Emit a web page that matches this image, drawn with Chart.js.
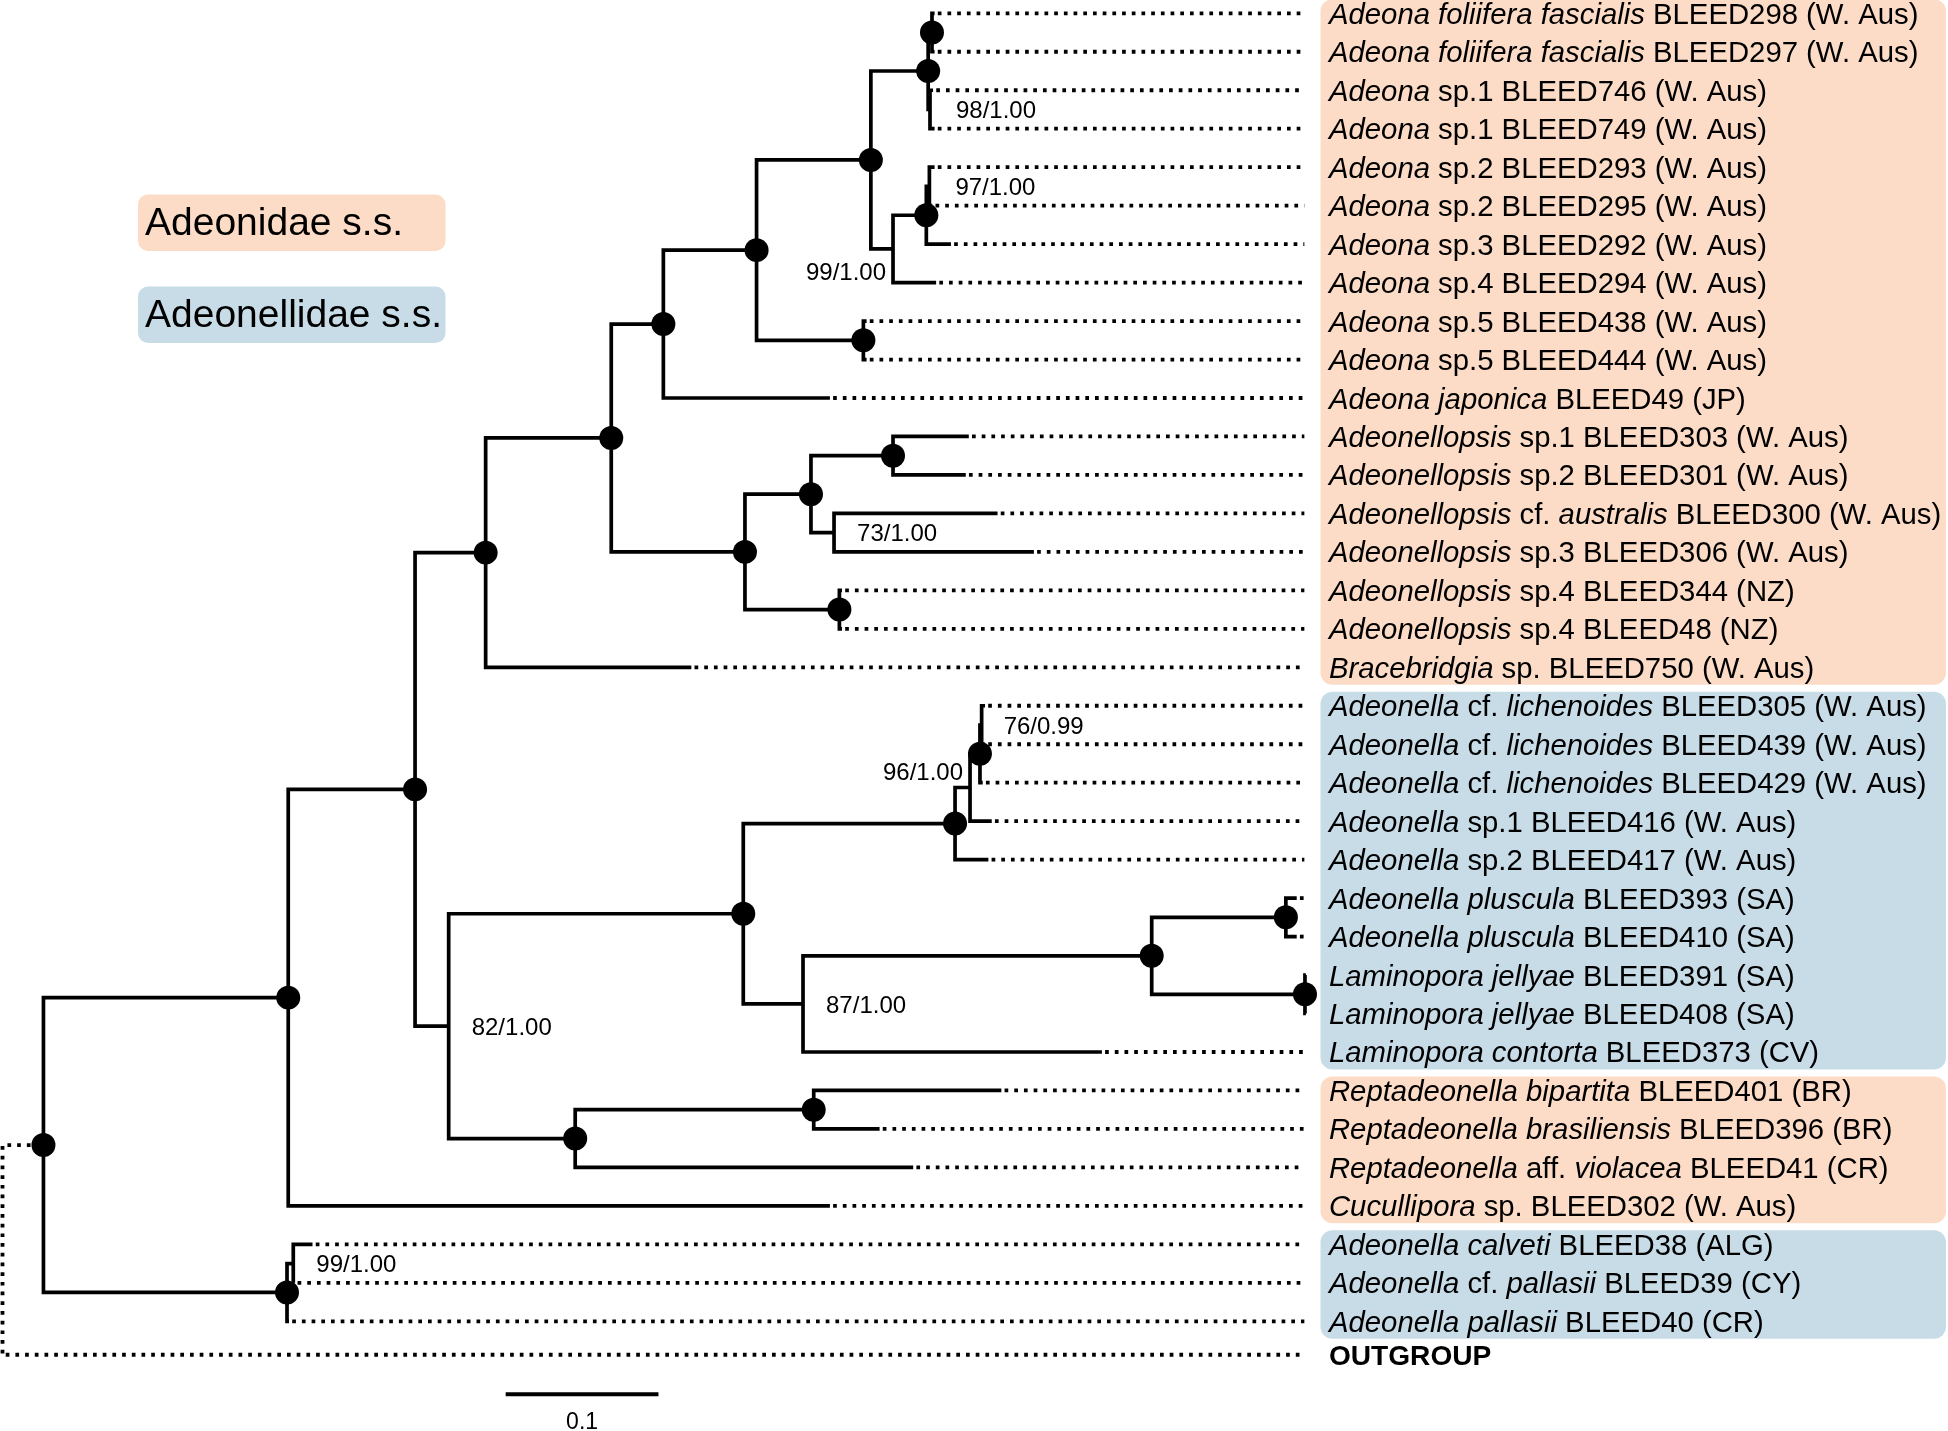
<!DOCTYPE html>
<html><head><meta charset="utf-8">
<script src="https://cdn.jsdelivr.net/npm/chart.js@4.4.1/dist/chart.umd.min.js"></script>
<style>html,body{margin:0;padding:0;background:#fff;}#wrap{width:1948px;height:1431px;position:relative;}</style>
</head><body><div id="wrap"><canvas id="c" width="1948" height="1431"></canvas></div>
<script>
// ---------- DATA ----------
// tip labels (top to bottom); *...* = italic, **...** = bold
const taxa = [
  '*Adeona foliifera fascialis* BLEED298 (W. Aus)',
  '*Adeona foliifera fascialis* BLEED297 (W. Aus)',
  '*Adeona* sp.1 BLEED746 (W. Aus)',
  '*Adeona* sp.1 BLEED749 (W. Aus)',
  '*Adeona* sp.2 BLEED293 (W. Aus)',
  '*Adeona* sp.2 BLEED295 (W. Aus)',
  '*Adeona* sp.3 BLEED292 (W. Aus)',
  '*Adeona* sp.4 BLEED294 (W. Aus)',
  '*Adeona* sp.5 BLEED438 (W. Aus)',
  '*Adeona* sp.5 BLEED444 (W. Aus)',
  '*Adeona japonica* BLEED49 (JP)',
  '*Adeonellopsis* sp.1 BLEED303 (W. Aus)',
  '*Adeonellopsis* sp.2 BLEED301 (W. Aus)',
  '*Adeonellopsis* cf. *australis* BLEED300 (W. Aus)',
  '*Adeonellopsis* sp.3 BLEED306 (W. Aus)',
  '*Adeonellopsis* sp.4 BLEED344 (NZ)',
  '*Adeonellopsis* sp.4 BLEED48 (NZ)',
  '*Bracebridgia* sp. BLEED750 (W. Aus)',
  '*Adeonella* cf. *lichenoides* BLEED305 (W. Aus)',
  '*Adeonella* cf. *lichenoides* BLEED439 (W. Aus)',
  '*Adeonella* cf. *lichenoides* BLEED429 (W. Aus)',
  '*Adeonella* sp.1 BLEED416 (W. Aus)',
  '*Adeonella* sp.2 BLEED417 (W. Aus)',
  '*Adeonella pluscula* BLEED393 (SA)',
  '*Adeonella pluscula* BLEED410 (SA)',
  '*Laminopora jellyae* BLEED391 (SA)',
  '*Laminopora jellyae* BLEED408 (SA)',
  '*Laminopora contorta* BLEED373 (CV)',
  '*Reptadeonella bipartita* BLEED401 (BR)',
  '*Reptadeonella brasiliensis* BLEED396 (BR)',
  '*Reptadeonella* aff. *violacea* BLEED41 (CR)',
  '*Cucullipora* sp. BLEED302 (W. Aus)',
  '*Adeonella calveti* BLEED38 (ALG)',
  '*Adeonella* cf. *pallasii* BLEED39 (CY)',
  '*Adeonella pallasii* BLEED40 (CR)',
  '**OUTGROUP**'
];
// parent node of each tip
const tipParent = ['M1','M1','M2','M2','O1','O1','O','N','L','L','H','P1','P1','P2','P2','Q','Q','E',
  'V3','V3','V2','V1','V','Y','Y','Z','Z','W','U1','U1','U','B','S','S','C','R'];
// distance from root at which each tip's branch ends (substitutions/site)
const tipDepth = [0.6100,0.6100,0.6090,0.6100,0.6100,0.6085,0.6207,0.6110,0.5655,0.5655,0.5415,
  0.6324,0.6304,0.6512,0.6750,0.5494,0.5494,0.4508,0.6430,0.6430,0.6415,0.6474,0.6452,
  0.8470,0.8470,0.8530,0.8530,0.7195,0.6537,0.5740,0.5960,0.5415,0.2029,0.1910,0.1875,0];
// internal nodes
const nodeNames  = ['R','A','B','C','S','D','E','G','H','J','K','M','M1','M2','N','O','O1','L',
  'I','P','P1','P2','Q','F','T','V','V1','V2','V3','W','X','Y','Z','U','U1'];
const nodeParent = [null,'R','A','A','C','B','D','E','G','H','J','K','M','M','K','N','O','J',
  'G','I','P','P','I','D','F','T','V','V1','V2','T','W','X','X','F','U'];
const nodeDepth  = [0,0.0268,0.1870,0.1862,0.1903,0.2700,0.3162,0.3984,0.4325,0.4935,0.5683,
  0.6058,0.6083,0.6070,0.5828,0.6046,0.6066,0.5634,0.4859,0.5291,0.5828,0.5442,0.5477,
  0.2920,0.4848,0.6234,0.6332,0.6397,0.6408,0.5239,0.7521,0.8399,0.8524,0.3748,0.5309];
// full support (filled circle) per node
const nodeDot = [false,true,true,true,false,true,true,true,true,true,true,true,true,false,false,
  true,false,true,true,true,true,false,true,false,true,true,false,true,false,false,true,true,true,true,true];
// bootstrap / posterior labels
const supportNode  = ['M2','O1','N','P2','V3','V1','W','F','S'];
const supportValue = ['98/1.00','97/1.00','99/1.00','73/1.00','76/0.99','96/1.00','87/1.00','82/1.00','99/1.00'];
// shaded label groups
const groupNames = ['Adeonidae s.s.','Adeonellidae s.s.'];
const boxFirstRow = [0,18,28,32];
const boxLastRow  = [17,27,31,34];
const boxGroup    = [0,1,0,1];
const scaleBarValue = 0.1;
const scaleBarLabel = '0.1';

// ---------- LAYOUT / STYLE ----------
const PX_PER_UNIT = 1528, ROOT_PX = 2.5, W = 1948, H = 1431;
const ROW0_PX = 13.3, ROW_PX = 38.47;
const OUTGROUP_ROW = 34.87;
const DOT_END = 0.852;       // where dotted leaders end
const LABEL_X = 0.8681;      // tip label start
const SCALEBAR_X = 0.3293, SCALEBAR_ROW = 35.90;
const COLORS = ['rgb(252,220,198)','rgb(200,220,232)'];
const FONT = '"Liberation Sans", Arial, Helvetica, sans-serif';
const supportPlace = {   // dx, dy (px), align
  M2:[26,0,'left'], O1:[26,0,'left'], N:[-7,22,'right'], P2:[23,0,'left'], V3:[22,0,'left'],
  V1:[-7,-16,'right'], W:[23,0,'left'], F:[23,0,'left'], S:[23,0,'left']
};

// ---------- TREE GEOMETRY (data units) ----------
const nodeIdx = {}; nodeNames.forEach((n,i)=>nodeIdx[n]=i);
const children = nodeNames.map(()=>[]);
taxa.forEach((t,i)=>children[nodeIdx[tipParent[i]]].push({tip:true,i}));
nodeNames.forEach((n,i)=>{ if(nodeParent[i]) children[nodeIdx[nodeParent[i]]].push({tip:false,i}); });
const tipRow = i => (i === taxa.length-1 ? OUTGROUP_ROW : i);
const nodeRow = [];
function rowOf(c){ return c.tip ? tipRow(c.i) : computeRow(c.i); }
function depthOf(c){ return c.tip ? tipDepth[c.i] : nodeDepth[c.i]; }
function computeRow(i){
  if (nodeRow[i] !== undefined) return nodeRow[i];
  const rs = children[i].map(rowOf);
  nodeRow[i] = (Math.min(...rs) + Math.max(...rs)) / 2;
  return nodeRow[i];
}
nodeNames.forEach((n,i)=>computeRow(i));

const datasets = [];
const solid = {borderColor:'#000', borderWidth:3.7, pointRadius:0, showLine:true, borderJoinStyle:'miter', borderCapStyle:'butt', fill:false};
const dotted = {borderColor:'#000', borderWidth:3.8, pointRadius:0, showLine:true, borderDash:[3.7,6.0], borderDashOffset:6.5, borderCapStyle:'butt', fill:false};
// brackets
nodeNames.forEach((n,i)=>{
  const ch = children[i].slice().sort((a,b)=>rowOf(a)-rowOf(b));
  const c1 = ch[0], c2 = ch[ch.length-1];
  const pts = [
    {x:depthOf(c1), y:rowOf(c1)}, {x:nodeDepth[i], y:rowOf(c1)},
    {x:nodeDepth[i], y:rowOf(c2)}, {x:depthOf(c2), y:rowOf(c2)}
  ];
  datasets.push(Object.assign({data:pts}, n==='R' ? dotted : solid));
});
// dotted leaders
taxa.forEach((t,i)=>{
  if (tipDepth[i] < DOT_END - 0.002)
    datasets.push(Object.assign({data:[{x:tipDepth[i],y:tipRow(i)},{x:DOT_END,y:tipRow(i)}]}, dotted));
});
// scale bar
datasets.push(Object.assign({data:[{x:SCALEBAR_X,y:SCALEBAR_ROW},{x:SCALEBAR_X+scaleBarValue,y:SCALEBAR_ROW}]}, solid, {borderWidth:4}));
// node circles
datasets.push({data:nodeNames.map((n,i)=>nodeDot[i]?{x:nodeDepth[i],y:nodeRow[i]}:null).filter(Boolean),
  pointRadius:12, pointHoverRadius:12, backgroundColor:'#000', borderWidth:0, showLine:false});

function drawRich(ctx, str, x, y, size){
  const parts = str.split(/(\*\*[^*]+\*\*|\*[^*]+\*)/).filter(s=>s.length);
  let cx = x;
  for (const p of parts){
    let style = '', txt = p, sz = size;
    if (p.startsWith('**')) { style = 'bold '; txt = p.slice(2,-2); sz = size - 1.2; }
    else if (p.startsWith('*')) { style = 'italic '; txt = p.slice(1,-1); }
    ctx.font = style + sz + 'px ' + FONT;
    ctx.fillText(txt, cx, y);
    cx += ctx.measureText(txt).width;
  }
}

const decor = {
  id:'decor',
  beforeDatasetsDraw(chart){
    const {ctx, scales:{x, y}} = chart;
    ctx.save();
    const L = 1320.5, R = 1946;
    boxFirstRow.forEach((r,b)=>{
      const top = y.getPixelForValue(r) - 14, bot = y.getPixelForValue(boxLastRow[b]) + 17.5;
      ctx.fillStyle = COLORS[boxGroup[b]];
      ctx.beginPath(); ctx.roundRect(L, top, R-L, bot-top, 12); ctx.fill();
    });
    // legend
    const legTop = [194.5, 286.5], legBase = [235, 326.7];
    groupNames.forEach((g,k)=>{
      ctx.fillStyle = COLORS[k];
      ctx.beginPath(); ctx.roundRect(138, legTop[k], 307.5, 56.5, 10); ctx.fill();
      ctx.fillStyle = '#000'; ctx.font = '39px ' + FONT; ctx.textBaseline = 'alphabetic'; ctx.textAlign='left';
      ctx.fillText(g, 145, legBase[k]);
    });
    ctx.restore();
  },
  afterDatasetsDraw(chart){
    const {ctx, scales:{x, y}} = chart;
    ctx.save();
    ctx.fillStyle = '#000'; ctx.textBaseline = 'alphabetic'; ctx.textAlign = 'left';
    const lx = x.getPixelForValue(LABEL_X);
    taxa.forEach((t,i)=> drawRich(ctx, t, lx, y.getPixelForValue(tipRow(i)) + 10.5, 29.3));
    ctx.font = '24px ' + FONT;
    supportNode.forEach((n,k)=>{
      const i = nodeIdx[n], p = supportPlace[n];
      ctx.textAlign = p[2];
      ctx.fillText(supportValue[k], x.getPixelForValue(nodeDepth[i]) + p[0], y.getPixelForValue(nodeRow[i]) + p[1] + 8.6);
    });
    ctx.textAlign = 'center'; ctx.font = '23px ' + FONT;
    ctx.fillText(scaleBarLabel, x.getPixelForValue(SCALEBAR_X + scaleBarValue/2), y.getPixelForValue(SCALEBAR_ROW) + 35);
    ctx.restore();
  }
};

new Chart(document.getElementById('c'), {
  type:'scatter',
  data:{datasets},
  options:{
    responsive:false, animation:false, devicePixelRatio:1,
    layout:{padding:0, autoPadding:false},
    plugins:{legend:{display:false}, tooltip:{enabled:false}},
    events:[],
    scales:{
      x:{type:'linear', display:false, min:-ROOT_PX/PX_PER_UNIT, max:(W-ROOT_PX)/PX_PER_UNIT},
      y:{type:'linear', display:false, reverse:true, min:-ROW0_PX/ROW_PX, max:(H-ROW0_PX)/ROW_PX}
    }
  },
  plugins:[decor]
});
</script></body></html>
